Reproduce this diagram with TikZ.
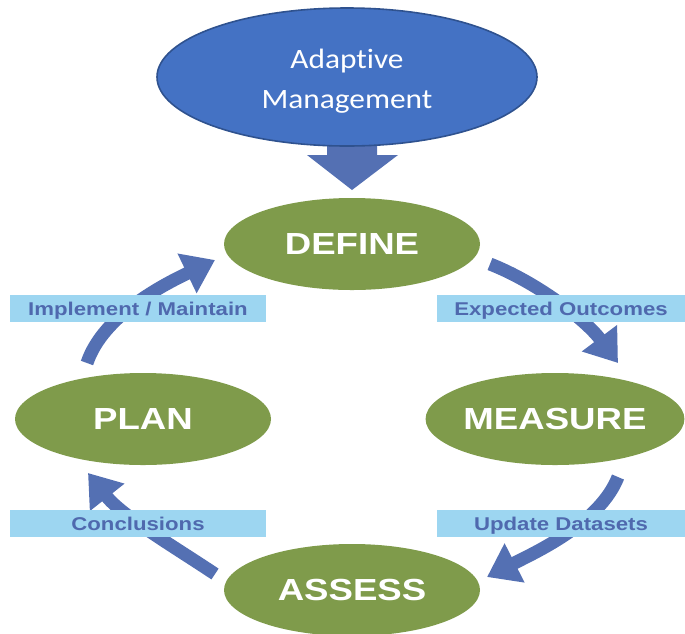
\documentclass[tikz,border=0pt]{standalone}
\usepackage{fontspec}
\usetikzlibrary{arrows.meta,shapes.geometric}
\newfontfamily\titlefont[FakeStretch=1.12,Ligatures=NoCommon]{Carlito}
\newfontfamily\widefont[FakeStretch=1.2]{Liberation Sans}
\definecolor{amblue}{HTML}{4472C4}
\definecolor{amedge}{HTML}{2F528F}
\definecolor{stepgreen}{HTML}{7F9B4B}
\definecolor{flowblue}{HTML}{5470B3}
\definecolor{tagfill}{HTML}{9DD6F1}
\definecolor{tagtext}{HTML}{4F69AE}
\begin{document}
\begin{tikzpicture}[x=1pt,y=-1pt,
  phase/.style={ellipse, fill=stepgreen, minimum width=256pt, minimum height=92pt,
    inner sep=0pt, text=white, text height=21.8pt, text depth=0pt,
    font=\widefont\bfseries\fontsize{30.5}{36}\selectfont},
  tag/.style={fill=tagfill, minimum height=27pt, inner sep=0pt, text=tagtext,
    text height=13.2pt, text depth=0pt,
    font=\widefont\bfseries\fontsize{18.5}{20}\selectfont},
  flow/.style={draw=flowblue, line width=13pt, -{Triangle[width=42pt,length=31pt]}},
]
\useasboundingbox (0,0) rectangle (685,633);

% block arrow from the top goal into the cycle
\fill[flowblue] (327,140) -- (377,140) -- (377,155) -- (398,155) -- (352,190)
  -- (307,155) -- (327,155) -- cycle;

% goal ellipse
\node[ellipse, fill=amblue, draw=amedge, line width=1.6pt, minimum width=380pt,
  minimum height=138pt, inner sep=0pt] (am) at (347,77) {};
\node[text=white, align=center, font=\titlefont\fontsize{28}{40}\selectfont]
  (amtext) at ([yshift=-4pt]am.center) {Adaptive\\Management};

% cycle phases
\node[phase] (define)  at (352,244) {DEFINE};
\node[phase] (measure) at (555,419) {MEASURE};
\node[phase] (assess)  at (352,590) {ASSESS};
\node[phase] (plan)    at (143,419) {PLAN};

% arrow end points between the phases
\coordinate (dmA) at (490,264);
\coordinate (dmB) at (618,363);
\coordinate (maA) at (618,477);
\coordinate (maB) at (487,577);
\coordinate (apA) at (215,574);
\coordinate (apB) at (88,473);
\coordinate (pdA) at (87,363);
\coordinate (pdB) at (215,260);

\draw[flow] (dmA) .. controls (536,282) and (585,319) .. (dmB);
\draw[flow] (maA) .. controls (600,523) and (536,552) .. (maB);
\draw[flow] (apA) .. controls (173,546) and (122,516) .. (apB);
\draw[flow] (pdA) .. controls (103,315) and (165,284) .. (pdB);

% transition labels
\node[tag, minimum width=256pt] (tImpl) at (138,308.5) {Implement / Maintain};
\node[tag, minimum width=248pt] (tExp)  at (561,308.5) {Expected Outcomes};
\node[tag, minimum width=256pt] (tConc) at (138,523.5) {Conclusions};
\node[tag, minimum width=248pt] (tUpd)  at (561,523.5) {Update Datasets};
\end{tikzpicture}
\end{document}
